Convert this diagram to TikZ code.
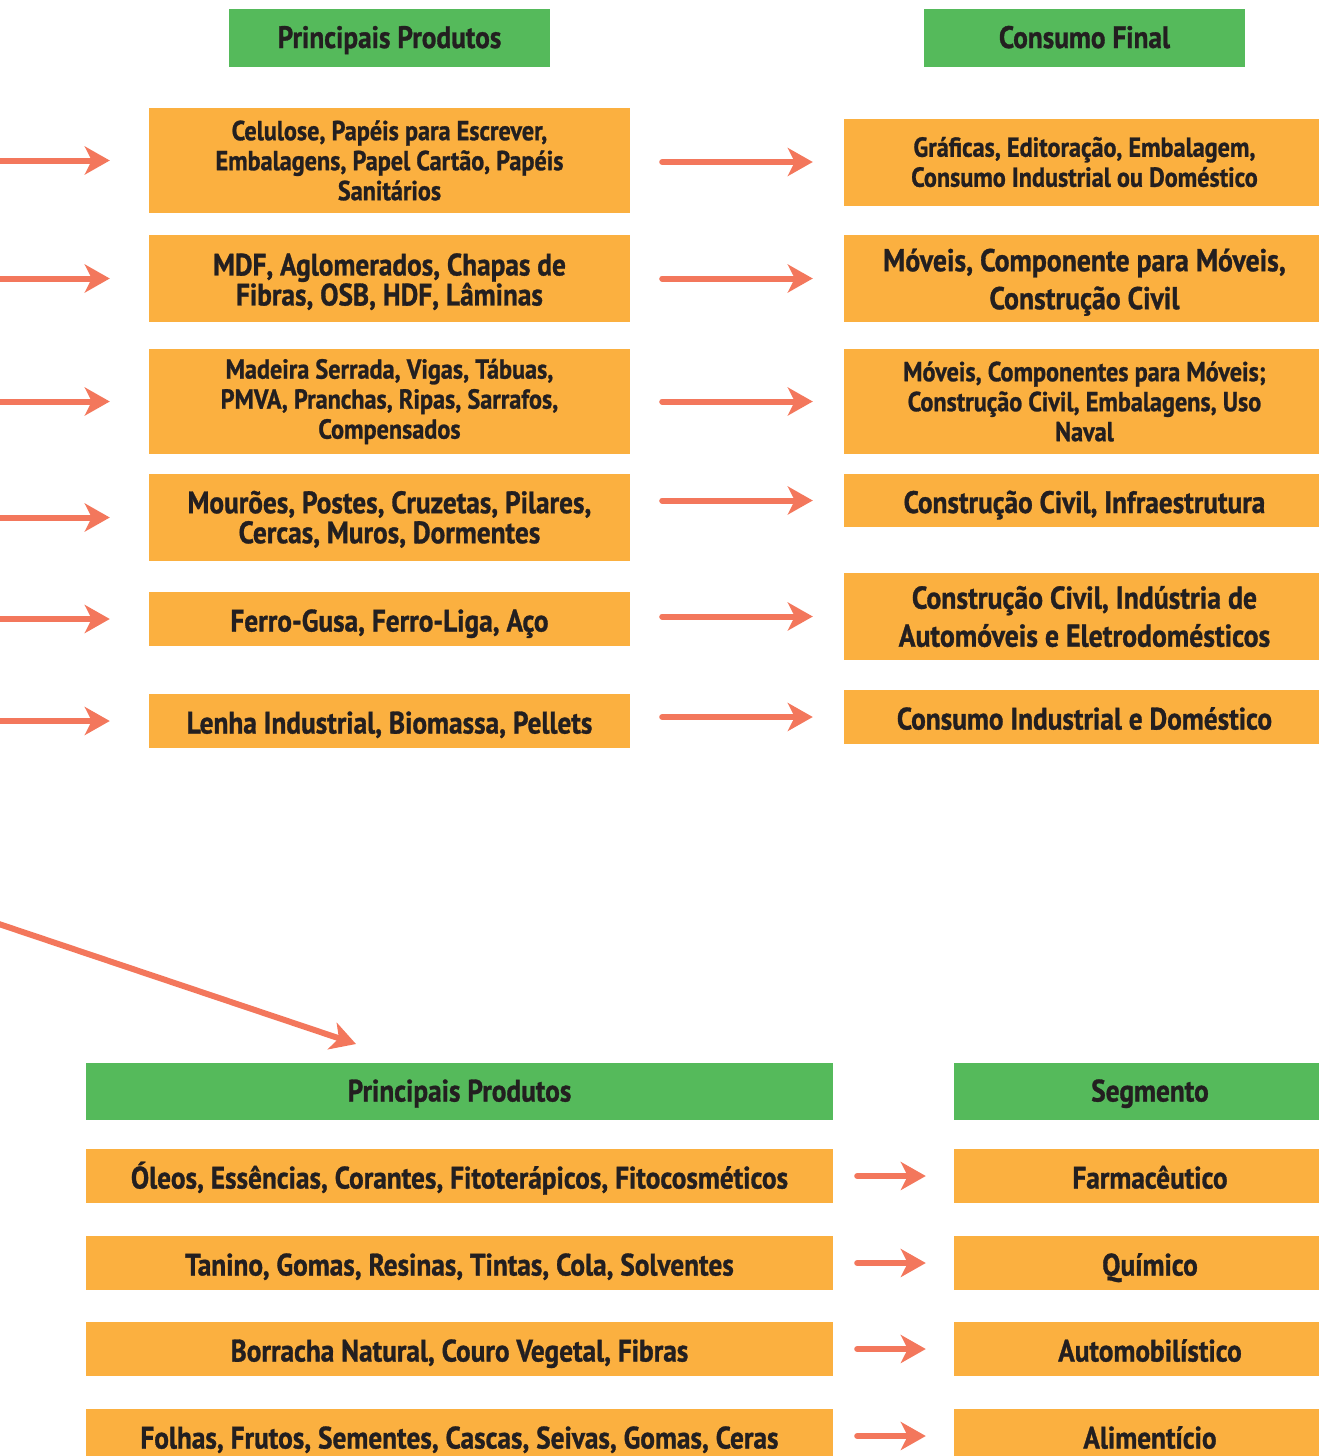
\documentclass[tikz,border=0pt]{standalone}
\usepackage{fontspec}
\newfontfamily\myfont{PT Sans}[FakeStretch=0.88, FakeBold=1.0]
\usetikzlibrary{arrows.meta}
\definecolor{org}{HTML}{FBB040}
\definecolor{grn}{HTML}{55BA5B}
\definecolor{arr}{HTML}{F3775C}
\definecolor{txt}{HTML}{231F20}
\begin{document}
\begin{tikzpicture}[x=1pt,y=-1pt,
  box/.style={fill=org, inner sep=0pt, text=txt, align=center},
  hdr/.style={fill=grn, inner sep=0pt, text=txt, align=center, minimum height=58pt, text height=26pt, text depth=6pt, font=\myfont\bfseries\fontsize{31}{30}\selectfont},
  sm/.style={font=\myfont\bfseries\fontsize{27.5}{30}\selectfont},
  bg/.style={font=\myfont\bfseries\fontsize{31}{30}\selectfont},
  bgw/.style={font=\myfont\bfseries\fontsize{31.5}{38}\selectfont},
  one/.style={text height=29pt, text depth=4pt},
  lw/.style={minimum width=481pt},
  bw/.style={minimum width=747pt},
  sw/.style={minimum width=392pt},
  arrow/.style={draw=arr, line width=6pt, line cap=round, -{Stealth[length=25pt,width=28pt,inset=7pt]}}]
\useasboundingbox (0,0) rectangle (1318,1456);
\coordinate (o) at (-10,0);
% top headers
\node[hdr, minimum width=321pt] (h1) at (389.5,38) {Principais Produtos};
\node[hdr, minimum width=321pt] (h2) at (1084.5,38) {Consumo Final};
% left column
\node[box, lw, sm, minimum height=105pt] (l1) at (389.5,160.5) {Celulose, Papéis para Escrever,\\Embalagens, Papel Cartão, Papéis\\Sanitários};
\node[box, lw, bg, minimum height=87pt] (l2) at (389.5,278.5) {\rule{0pt}{28.5pt}MDF, Aglomerados, Chapas de\\Fibras, OSB, HDF, Lâminas};
\node[box, lw, sm, minimum height=105pt] (l3) at (389.5,401.5) {Madeira Serrada, Vigas, Tábuas,\\PMVA, Pranchas, Ripas, Sarrafos,\\Compensados};
\node[box, lw, bg, minimum height=87pt] (l4) at (389.5,517.5) {\rule{0pt}{26pt}Mourões, Postes, Cruzetas, Pilares,\\Cercas, Muros, Dormentes};
\node[box, lw, bg, one, minimum height=54pt] (l5) at (389.5,619) {Ferro-Gusa, Ferro-Liga, Aço};
\node[box, lw, bg, one, minimum height=54pt] (l6) at (389.5,721) {Lenha Industrial, Biomassa, Pellets};
% right column
\node[box, lw, sm, minimum height=87pt] (r1) at (1084.5,162) {Gráficas, Editoração, Embalagem,\\Consumo Industrial ou Doméstico};
\node[box, lw, bgw, minimum height=87pt] (r2) at (1084.5,278.5) {\rule{0pt}{30pt}Móveis, Componente para Móveis,\\Construção Civil};
\node[box, lw, sm, minimum height=105pt] (r3) at (1084.5,401.5) {Móveis, Componentes para Móveis;\\Construção Civil, Embalagens, Uso\\Naval};
\node[box, lw, bg, one, minimum height=53pt] (r4) at (1084.5,500.5) {Construção Civil, Infraestrutura};
\node[box, lw, bgw, minimum height=87pt] (r5) at (1084.5,616.5) {Construção Civil, Indústria de\\Automóveis e Eletrodomésticos};
\node[box, lw, bg, one, minimum height=54pt] (r6) at (1084.5,717) {Consumo Industrial e Doméstico};
% left incoming arrows
\foreach \i in {1,...,6}{
  \draw[arrow] (o |- l\i.west) -- ([xshift=-39pt]l\i.west);
}
% middle arrows
\foreach \i in {1,...,6}{
  \draw[arrow] ([xshift=32pt]l\i.east |- r\i.west) -- ([xshift=-31pt]r\i.west);
}
% bottom section
\node[hdr, bw, minimum height=57pt] (hb1) at (459.5,1091.5) {Principais Produtos};
\node[hdr, sw, minimum height=57pt] (hb2) at (1150,1091.5) {Segmento};
\node[box, bw, bg, one, minimum height=54pt] (b1) at (459.5,1176) {Óleos, Essências, Corantes, Fitoterápicos, Fitocosméticos};
\node[box, sw, bg, one, minimum height=54pt] (s1) at (1150,1176) {Farmacêutico};
\node[box, bw, bg, one, minimum height=54pt] (b2) at (459.5,1263) {Tanino, Gomas, Resinas, Tintas, Cola, Solventes};
\node[box, sw, bg, one, minimum height=54pt] (s2) at (1150,1263) {Químico};
\node[box, bw, bg, one, minimum height=54pt] (b3) at (459.5,1349) {Borracha Natural, Couro Vegetal, Fibras};
\node[box, sw, bg, one, minimum height=54pt] (s3) at (1150,1349) {Automobilístico};
\node[box, bw, bg, one, minimum height=54pt] (b4) at (459.5,1436) {Folhas, Frutos, Sementes, Cascas, Seivas, Gomas, Ceras};
\node[box, sw, bg, one, minimum height=54pt] (s4) at (1150,1436) {Alimentício};
\foreach \i in {1,...,4}{
  \draw[arrow] ([xshift=24pt]b\i.east) -- ([xshift=-28pt]s\i.west);
}
% diagonal arrow
\coordinate (ds) at (-10,921);
\coordinate (de) at (356,1044);
\draw[arrow] (ds) -- (de);
\end{tikzpicture}
\end{document}
